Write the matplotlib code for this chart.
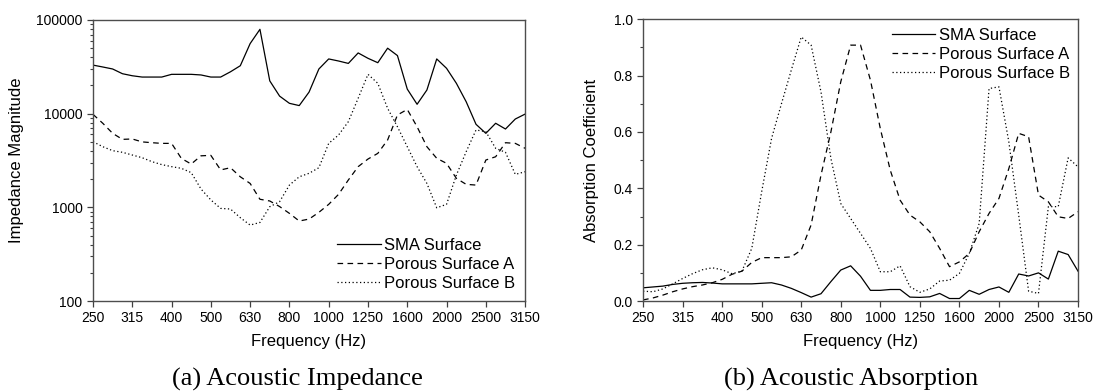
import numpy as np
import matplotlib
matplotlib.use("Agg")
from matplotlib import pyplot as plt
from matplotlib.ticker import LogLocator, MultipleLocator, NullFormatter


# 1/12-octave frequencies (Hz)
freq = [250.0, 264.9, 280.6, 297.3, 315.0, 333.7, 353.6, 374.6, 396.9, 420.4,
        445.4, 471.9, 500.0, 529.7, 561.2, 594.6, 630.0, 667.4, 707.1, 749.2,
        793.7, 840.9, 890.9, 943.9, 1000.0, 1059.5, 1122.5, 1189.2, 1259.9, 1334.8,
        1414.2, 1498.3, 1587.4, 1681.8, 1781.8, 1887.7, 2000.0, 2118.9, 2244.9, 2378.4,
        2519.8, 2669.7, 2828.4, 2996.6, 3174.8]
tick_labels = ["250", "315", "400", "500", "630", "800", "1000",
               "1250", "1600", "2000", "2500", "3150"]
series_names = ["SMA Surface", "Porous Surface A", "Porous Surface B"]

# (a) impedance magnitude
imp_sma = [33000, 31500, 30000, 26700, 25400, 24600, 24600, 24600, 26300, 26300,
           26300, 25900, 24600, 24600, 28000, 32500, 56000, 79500, 22400, 15400,
           12900, 12200, 17000, 30000, 38400, 36500, 34400, 44500, 39000, 35000,
           50000, 41700, 18300, 12600, 17900, 38400, 30500, 21100, 13400, 7700,
           6170, 7900, 6860, 8770, 9900]
imp_a = [9840, 7890, 6170, 5320, 5370, 5000, 4900, 4820, 4820, 3330,
         2900, 3550, 3590, 2510, 2650, 2120, 1800, 1220, 1170, 1020,
         863, 715, 750, 885, 1077, 1376, 1960, 2720, 3280, 3770,
         5240, 9690, 11100, 7250, 4440, 3340, 2950, 2040, 1760, 1730,
         3200, 3470, 4900, 4820, 4270]
imp_b = [5020, 4440, 4030, 3870, 3620, 3390, 3075, 2860, 2720, 2610,
         2350, 1570, 1200, 975, 960, 776, 647, 690, 1016, 1150,
         1730, 2120, 2310, 2650, 4820, 5910, 8220, 14600, 26300, 21100,
         11400, 7250, 4440, 2720, 1800, 990, 1077, 2210, 3930, 6700,
         6430, 4270, 3870, 2250, 2400]

# (b) absorption coefficient
abs_sma = [0.047, 0.050, 0.053, 0.059, 0.063, 0.065, 0.066, 0.064, 0.061, 0.061,
           0.061, 0.061, 0.063, 0.065, 0.057, 0.045, 0.030, 0.014, 0.026, 0.069,
           0.110, 0.125, 0.088, 0.038, 0.038, 0.041, 0.041, 0.014, 0.013, 0.015,
           0.027, 0.009, 0.009, 0.038, 0.024, 0.041, 0.050, 0.031, 0.096, 0.089,
           0.100, 0.078, 0.177, 0.165, 0.106]
abs_a = [0.004, 0.011, 0.021, 0.033, 0.043, 0.051, 0.057, 0.065, 0.077, 0.095,
         0.106, 0.137, 0.154, 0.154, 0.154, 0.157, 0.181, 0.270, 0.447, 0.600,
         0.778, 0.908, 0.908, 0.784, 0.612, 0.465, 0.358, 0.305, 0.281, 0.246,
         0.187, 0.122, 0.139, 0.169, 0.246, 0.311, 0.364, 0.470, 0.595, 0.583,
         0.376, 0.352, 0.299, 0.293, 0.317]
abs_b = [0.035, 0.033, 0.043, 0.061, 0.080, 0.097, 0.111, 0.118, 0.111, 0.097,
         0.106, 0.187, 0.388, 0.577, 0.700, 0.820, 0.937, 0.908, 0.742, 0.506,
         0.346, 0.293, 0.240, 0.187, 0.104, 0.104, 0.125, 0.051, 0.031, 0.043,
         0.071, 0.074, 0.098, 0.169, 0.275, 0.754, 0.760, 0.565, 0.305, 0.035,
         0.027, 0.335, 0.335, 0.508, 0.476]

plt.rcParams["font.family"] = ["Liberation Sans", "DejaVu Sans"]

styles = [
    dict(linestyle="-"),
    dict(linestyle=(0, (4.5, 3.5))),
    dict(linestyle=(0, (1.0, 2.0))),
]

fig = plt.figure(figsize=(10.94, 3.92), dpi=100)
ax1 = fig.add_axes([0.085, 0.232, 0.395, 0.717])
ax2 = fig.add_axes([0.5878, 0.232, 0.3976, 0.719])

tick_pos = freq[::4]

for ax, data in [(ax1, [imp_sma, imp_a, imp_b]), (ax2, [abs_sma, abs_a, abs_b])]:
    for y, name, st in zip(data, series_names, styles):
        ax.plot(freq, y, color="black", linewidth=0.9, label=name, **st)
    ax.set_xscale("log")
    ax.set_xlim(freq[0], freq[-1])
    ax.set_xticks(tick_pos)
    ax.set_xticklabels(tick_labels)
    ax.xaxis.set_minor_locator(matplotlib.ticker.NullLocator())
    ax.tick_params(axis="both", which="major", direction="out", length=4,
                   width=0.9, labelsize=10, top=False, right=False, color="0.25")
    ax.tick_params(axis="y", which="minor", direction="out", length=2.5,
                   width=0.8, right=False, color="0.25")
    for s in ax.spines.values():
        s.set_linewidth(1.0)
        s.set_color("0.3")
    ax.set_xlabel("Frequency (Hz)", fontsize=12, labelpad=6)

ax1.set_yscale("log")
ax1.set_ylim(100, 100000)
ax1.set_yticks([100, 1000, 10000, 100000])
ax1.set_yticklabels(["100", "1000", "10000", "100000"])
ax1.yaxis.set_minor_locator(LogLocator(base=10, subs=np.arange(2, 10)))
ax1.yaxis.set_minor_formatter(NullFormatter())
ax1.set_ylabel("Impedance Magnitude", fontsize=12, labelpad=9)
ax1.legend(loc="lower right", frameon=False, fontsize=12, handlelength=2.6,
           handletextpad=0.2, labelspacing=0.25, borderaxespad=0.2)

ax2.set_ylim(0, 1.0)
ax2.yaxis.set_major_locator(MultipleLocator(0.2))
ax2.yaxis.set_minor_locator(MultipleLocator(0.1))
ax2.yaxis.set_major_formatter(matplotlib.ticker.FormatStrFormatter("%.1f"))
ax2.set_ylabel("Absorption Coefficient", fontsize=12, labelpad=10)
ax2.legend(loc="upper right", frameon=False, fontsize=12, handlelength=2.6,
           handletextpad=0.2, labelspacing=0.25, borderaxespad=0.1)

fig.text(297 / 1094, 1 - 379 / 392, "(a) Acoustic Impedance", ha="center", va="center",
         fontsize=19, family="Liberation Serif")
fig.text(851 / 1094, 1 - 379 / 392, "(b) Acoustic Absorption", ha="center", va="center",
         fontsize=19, family="Liberation Serif")

plt.savefig("out.png", dpi=100)
